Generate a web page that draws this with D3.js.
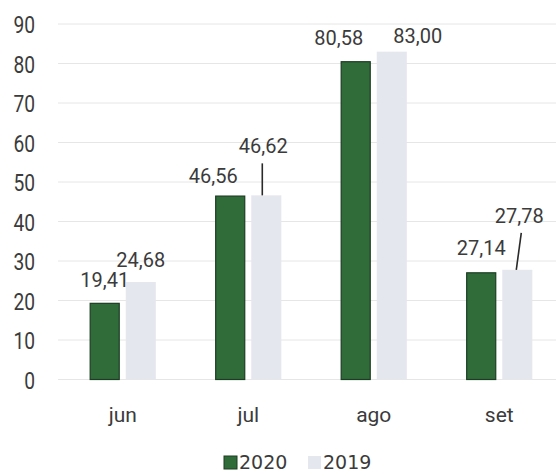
<!DOCTYPE html>
<html>
<head>
<meta charset="utf-8">
<script src="https://cdn.jsdelivr.net/npm/d3@7/dist/d3.min.js"></script>
<style>
  html, body { margin: 0; padding: 0; background: #ffffff; }
  svg { display: block; }
  text { fill: #3b3b3b; }
</style>
</head>
<body>
<svg id="chart" width="556" height="472"></svg>
<script>
// Monthly values, 2020 vs 2019
const months = ["jun", "jul", "ago", "set"];
const series = ["2020", "2019"];
const values2020 = [19.41, 46.56, 80.58, 27.14];
const values2019 = [24.68, 46.62, 83.00, 27.78];
const yTicks = [0, 10, 20, 30, 40, 50, 60, 70, 80, 90];

// Label placement tweaks: [dx, dy] relative to the bar's top centre,
// plus optional leader lines for labels lifted away from their bar.
const labelOffsets2020 = [[0, -16], [-17, -13], [-17, -16], [0, -17]];
const labelOffsets2019 = [[0, -15], [-3, -42], [26, -9], [2, -47]];
const leaders2019 = [null, {x1: -4, y1: -32, x2: -4, y2: 0}, null, {x1: 4, y1: -37, x2: -1, y2: 0}];

const colors = { "2020": "#2f6c3a", "2019": "#e5e7ee" };
const strokes = { "2020": "#1c3d22", "2019": "none" };

const svg = d3.select("#chart");
const font = "Roboto, 'DejaVu Sans', sans-serif";

const y = d3.scaleLinear().domain([0, 90]).range([379.5, 24]);
const x0 = d3.scaleBand().domain(months).range([60, 562])
  .paddingInner(0.473).paddingOuter(0.2365);
const x1 = d3.scaleBand().domain(series).range([0, x0.bandwidth()]).paddingInner(1 / 6);

// Horizontal gridlines
svg.append("g")
  .selectAll("line")
  .data(yTicks)
  .join("line")
  .attr("x1", 58).attr("x2", 556)
  .attr("y1", d => y(d)).attr("y2", d => y(d))
  .attr("stroke", "#e6e6e6").attr("stroke-width", 1);

// Y axis labels (tall, condensed digits)
const yAxis = d3.axisLeft(y).tickValues(yTicks).tickSize(0).tickPadding(0)
  .tickFormat(d3.format("d"));
svg.append("g")
  .attr("transform", "translate(35,0)")
  .call(yAxis)
  .call(g => g.select(".domain").remove())
  .call(g => g.selectAll("text")
    .attr("x", 0)
    .attr("font-family", font)
    .attr("font-size", 24)
    .attr("fill", "#3b3b3b")
    .attr("dy", "0.36em")
    .attr("transform", "scale(0.8,1)"));

// Category axis labels
const xAxis = d3.axisBottom(x0).tickSize(0).tickPadding(0);
svg.append("g")
  .attr("transform", "translate(0,407)")
  .call(xAxis)
  .call(g => g.select(".domain").remove())
  .call(g => g.selectAll("text")
    .attr("font-family", font)
    .attr("font-size", 21)
    .attr("fill", "#3b3b3b")
    .attr("dy", "0.7em"));

const rows = months.map((m, i) => ({
  month: m,
  bars: [
    { key: "2020", value: values2020[i], off: labelOffsets2020[i], leader: null },
    { key: "2019", value: values2019[i], off: labelOffsets2019[i], leader: leaders2019[i] }
  ]
}));

const groups = svg.append("g")
  .selectAll("g")
  .data(rows)
  .join("g")
  .attr("transform", d => `translate(${x0(d.month)},0)`);

groups.selectAll("rect")
  .data(d => d.bars)
  .join("rect")
  .attr("x", d => x1(d.key) + (d.key === "2020" ? 0.5 : 0))
  .attr("y", d => y(d.value) + (d.key === "2020" ? 0.5 : 0))
  .attr("width", d => x1.bandwidth() - (d.key === "2020" ? 1 : 0))
  .attr("height", d => y(0) - y(d.value) - (d.key === "2020" ? 0.5 : 0))
  .attr("fill", d => colors[d.key])
  .attr("stroke", d => strokes[d.key])
  .attr("stroke-width", 1.2);

// Leader lines
groups.selectAll("line.leader")
  .data(d => d.bars.filter(b => b.leader))
  .join("line")
  .attr("class", "leader")
  .attr("x1", d => x1(d.key) + x1.bandwidth() / 2 + d.leader.x1)
  .attr("x2", d => x1(d.key) + x1.bandwidth() / 2 + d.leader.x2)
  .attr("y1", d => y(d.value) + d.leader.y1)
  .attr("y2", d => y(d.value) + d.leader.y2)
  .attr("stroke", "#2a2a2a").attr("stroke-width", 1.6);

// Value labels
const fmt = v => d3.format(".2f")(v).replace(".", ",");
groups.selectAll("text.val")
  .data(d => d.bars)
  .join("text")
  .attr("class", "val")
  .attr("x", d => x1(d.key) + x1.bandwidth() / 2 + d.off[0])
  .attr("y", d => y(d.value) + d.off[1])
  .attr("text-anchor", "middle")
  .attr("font-family", font)
  .attr("font-size", 20)
  .text(d => fmt(d.value));

// Legend
const legend = svg.append("g").attr("transform", "translate(224,456)");
const legendX = d3.scaleOrdinal().domain(series).range([0, 84]);
const items = legend.selectAll("g")
  .data(series)
  .join("g")
  .attr("transform", d => `translate(${legendX(d)},0)`);
items.append("rect")
  .attr("width", 13).attr("height", 13)
  .attr("fill", d => colors[d])
  .attr("stroke", d => strokes[d])
  .attr("stroke-width", 1);
items.append("text")
  .attr("x", 15).attr("y", 12.5)
  .attr("font-family", "'DejaVu Sans', sans-serif")
  .attr("font-size", 19)
  .text(d => d);
</script>
</body>
</html>
